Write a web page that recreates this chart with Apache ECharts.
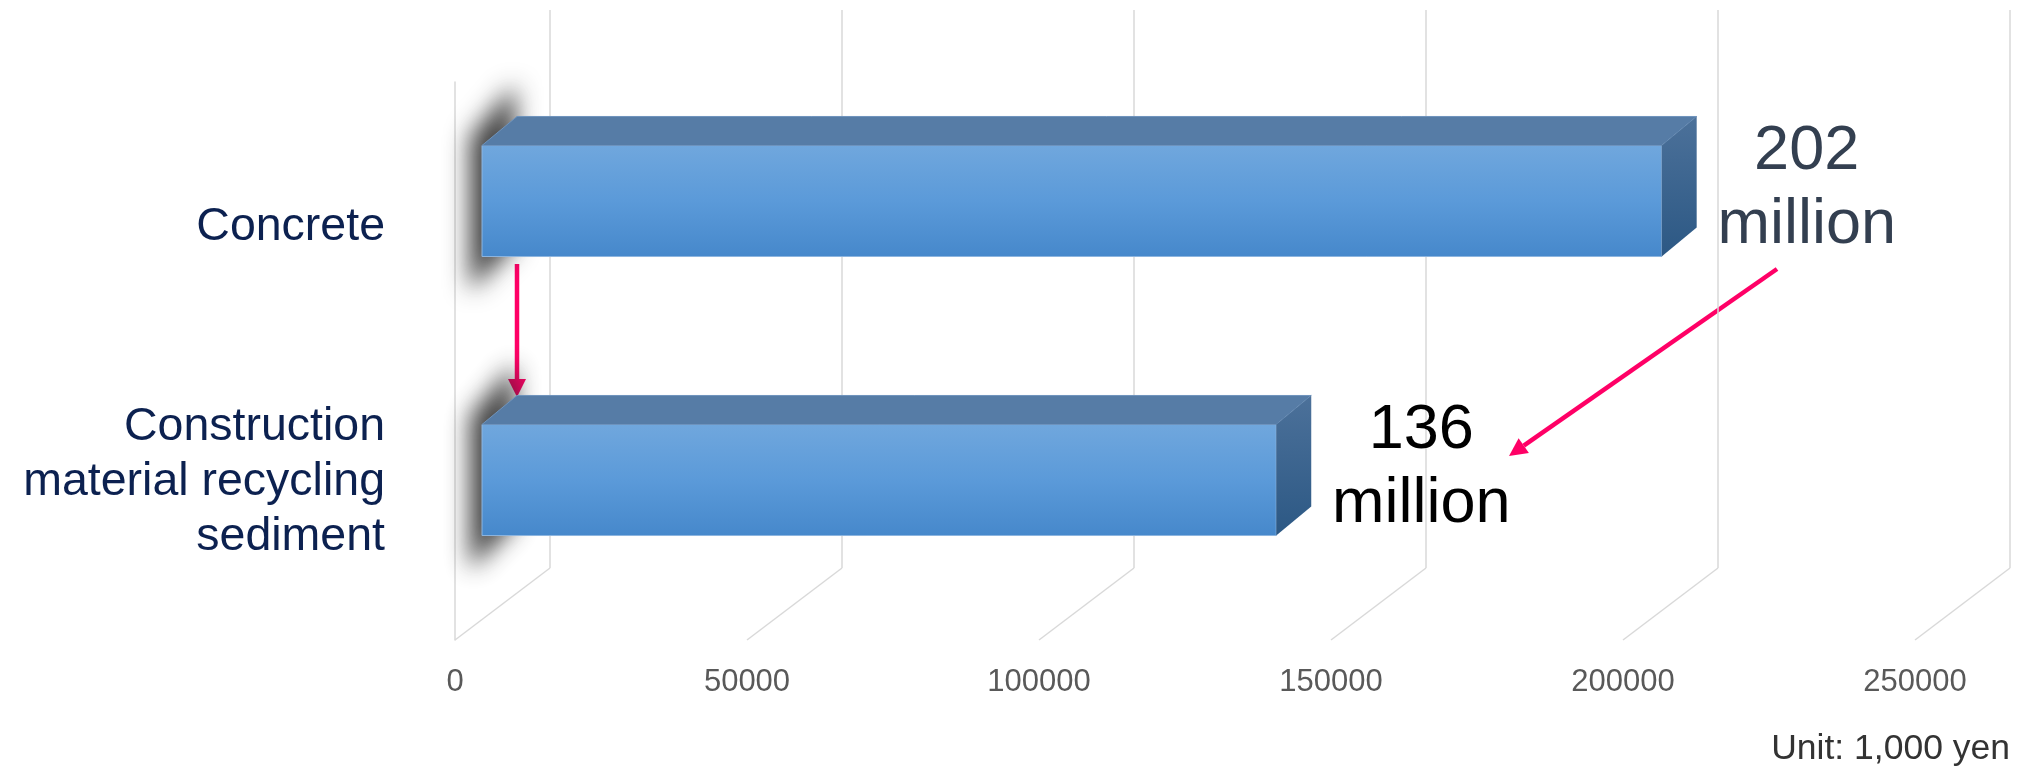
<!DOCTYPE html>
<html>
<head>
<meta charset="utf-8">
<script src="https://cdn.jsdelivr.net/npm/echarts@6/dist/echarts.min.js"></script>
<style>
html,body{margin:0;padding:0;background:#fff;}
#chart{width:2025px;height:769px;}
</style>
</head>
<body>
<div id="chart"></div>
<script>
// ---- data ----
const categories = ['Concrete', 'Construction\nmaterial recycling\nsediment'];
const values = [202000, 136000];
const valueLabels = ['202\nmillion', '136\nmillion'];
const tickValues = [0, 50000, 100000, 150000, 200000, 250000];
const unitText = 'Unit: 1,000 yen';

// ---- style / layout constants ----
const FONT = '"Liberation Sans", Arial, sans-serif';
const BOX_DX = 95, BOX_DY = 72;      // depth of the 3D box
const BAR_DX = 35, BAR_DY = 29;      // depth of each bar
const labelColors = ['#333f50', '#000000'];
const PINK = '#ff0066';
const OFF = 4000;                    // offscreen shift used to draw a shadow only

const chart = echarts.init(document.getElementById('chart'), null, {renderer: 'canvas'});

function renderBar(params, api) {
  const v = api.value(0);
  const ci = api.value(1);
  const s = api.coord([0, ci]);
  const e = api.coord([v, ci]);
  const h = api.size([0, 1])[1] * 0.398;
  const x0 = s[0], x1 = e[0], yc = s[1];
  const yt = yc - h / 2, yb = yc + h / 2;
  const fx = x0 - 12 - OFF, bx = x0 + BAR_DX - 2 - OFF;
  const shadowShape = [
    [fx, yt - 8], [bx, yt - BAR_DY - 32],
    [bx, yb - BAR_DY + 18], [fx, yb + 34]
  ];
  return {
    type: 'group',
    children: [
      {
        type: 'polygon', shape: {points: shadowShape},
        style: {fill: '#000', shadowBlur: 24, shadowColor: 'rgba(30,30,30,0.85)', shadowOffsetX: OFF, shadowOffsetY: 0}
      },
      {
        type: 'rect', shape: {x: x0, y: yt, width: x1 - x0, height: h},
        style: {
          fill: new echarts.graphic.LinearGradient(0, 0, 0, 1, [
            {offset: 0, color: '#70a7dd'}, {offset: 0.5, color: '#5b9ad9'}, {offset: 1, color: '#4688cb'}
          ]),
          stroke: '#8db5df', lineWidth: 1
        }
      },
      {
        type: 'polygon',
        shape: {points: [[x0, yt], [x1, yt], [x1 + BAR_DX, yt - BAR_DY], [x0 + BAR_DX, yt - BAR_DY]]},
        style: {fill: '#567ca6', stroke: '#6f94bd', lineWidth: 1}
      },
      {
        type: 'polygon',
        shape: {points: [[x1, yt], [x1 + BAR_DX, yt - BAR_DY], [x1 + BAR_DX, yb - BAR_DY], [x1, yb]]},
        style: {
          fill: new echarts.graphic.LinearGradient(0, 0, 0, 1, [
            {offset: 0, color: '#4c719a'}, {offset: 1, color: '#2c5884'}
          ])
        }
      },
      {
        type: 'text',
        style: {
          x: x1 + 145, y: yc - 12,
          text: valueLabels[params.dataIndex],
          fill: labelColors[params.dataIndex],
          font: '63px ' + FONT,
          lineHeight: 74,
          align: 'center', verticalAlign: 'middle'
        }
      }
    ]
  };
}

function renderFloor(params, api) {
  const p = api.coord([api.value(0), 0]);
  const bottom = params.coordSys.y + params.coordSys.height;
  return {
    type: 'line',
    shape: {x1: p[0], y1: bottom, x2: p[0] + BOX_DX, y2: bottom - BOX_DY},
    style: {stroke: '#d9d9d9', lineWidth: 1.5}
  };
}

function arrow(x1, y1, x2, y2) {
  const ang = Math.atan2(y2 - y1, x2 - x1);
  const L = 18, W = 9;
  const bx = x2 - L * Math.cos(ang), by = y2 - L * Math.sin(ang);
  const nx = -Math.sin(ang), ny = Math.cos(ang);
  return {
    type: 'group',
    children: [
      {type: 'line', shape: {x1: x1, y1: y1, x2: bx, y2: by}, style: {stroke: PINK, lineWidth: 4.5}},
      {type: 'polygon', shape: {points: [[x2, y2], [bx + nx * W, by + ny * W], [bx - nx * W, by - ny * W]]},
       style: {fill: PINK}}
    ]
  };
}

const option = {
  backgroundColor: '#ffffff',
  animation: false,
  title: {
    text: unitText, right: 10, top: 726,
    textStyle: {fontFamily: FONT, fontSize: 35.5, fontWeight: 'normal', color: '#333333'}
  },
  grid: [
    {left: 455, top: 82, width: 1460, height: 558},   // front plane
    {left: 550, top: 10, width: 1460, height: 558},   // back wall
    {left: 482, top: 61.5, width: 1460, height: 558}  // bar plane
  ],
  xAxis: [
    {
      gridIndex: 0, type: 'value', min: 0, max: 250000, interval: 50000,
      axisLine: {show: false}, axisTick: {show: false}, splitLine: {show: false},
      axisLabel: {fontFamily: FONT, fontSize: 31, color: '#595959', margin: 27,
                  formatter: function (v) { return String(v); }}
    },
    {
      gridIndex: 1, type: 'value', min: 0, max: 250000, interval: 50000,
      axisLine: {show: false}, axisTick: {show: false}, axisLabel: {show: false},
      splitLine: {show: true, showMinLine: true, showMaxLine: true, lineStyle: {color: '#d9d9d9', width: 1.5}}
    },
    {gridIndex: 2, type: 'value', min: 0, max: 250000, interval: 50000, show: false}
  ],
  yAxis: [
    {
      gridIndex: 0, type: 'category', data: categories, inverse: true,
      axisLine: {show: true, lineStyle: {color: '#d9d9d9', width: 1.5}},
      axisTick: {show: false},
      axisLabel: {
        fontFamily: FONT, fontSize: 46.5, lineHeight: 55, color: '#0c2150', margin: 70, align: 'right',
        formatter: function (val, idx) { return idx === 1 ? val + '\n{s| }' : '{t| }\n' + val; },
        rich: {s: {fontSize: 10, lineHeight: 36, height: 36}, t: {fontSize: 10, lineHeight: 12, height: 12}}
      }
    },
    {gridIndex: 1, type: 'category', data: categories, inverse: true, show: false},
    {gridIndex: 2, type: 'category', data: categories, inverse: true, show: false}
  ],
  series: [
    {
      type: 'custom', xAxisIndex: 0, yAxisIndex: 0, silent: true,
      renderItem: renderFloor,
      data: tickValues.map(v => [v, 0]),
      z: 1
    },
    {
      type: 'custom', xAxisIndex: 2, yAxisIndex: 2,
      renderItem: renderBar,
      encode: {x: 0, y: 1},
      data: values.map((v, i) => [v, i]),
      z: 5
    }
  ],
  graphic: [
    arrow(517, 264, 517, 397),
    arrow(1777, 269, 1509, 456)
  ]
};
chart.setOption(option);
</script>
</body>
</html>
